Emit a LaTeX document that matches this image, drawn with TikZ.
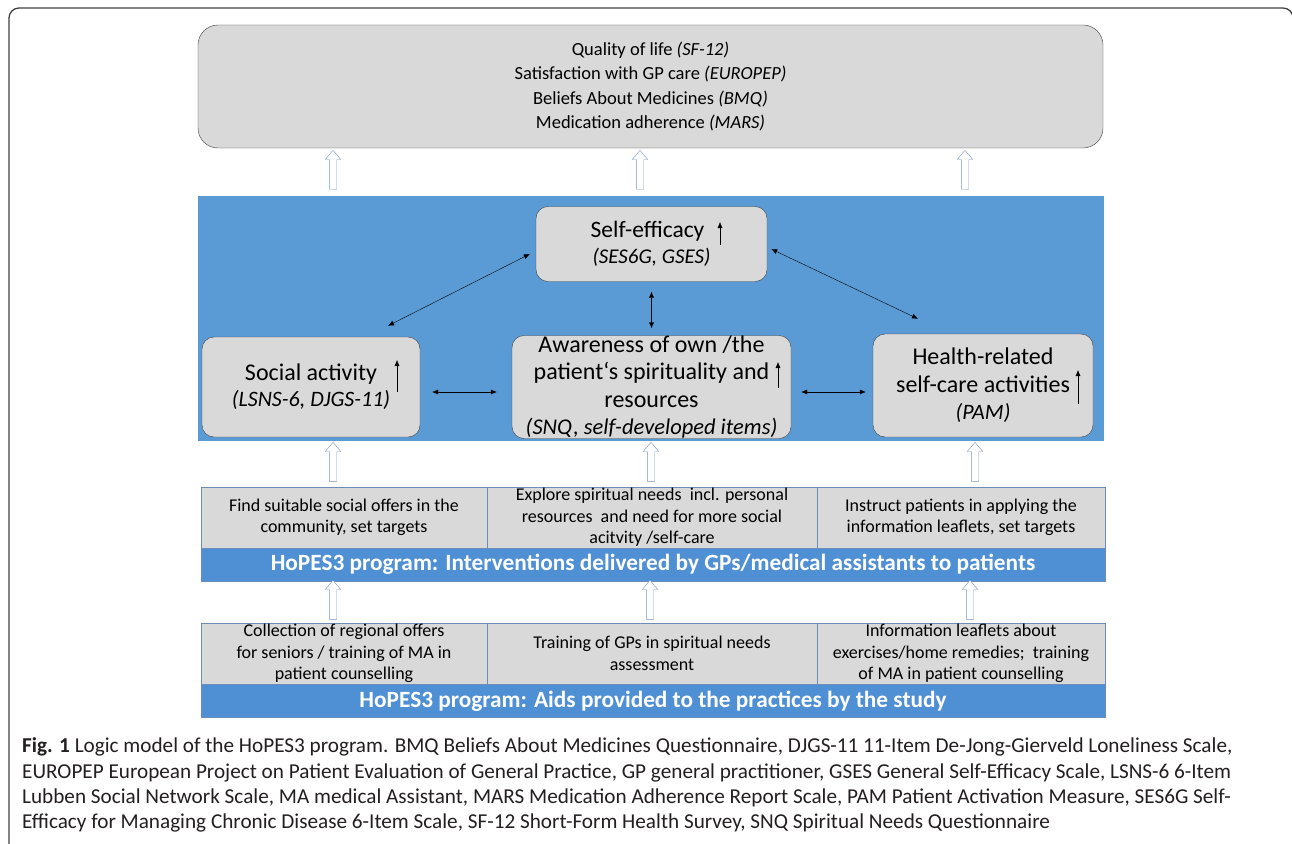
\documentclass[tikz,border=0pt]{standalone}
\usepackage{fontspec}
\setmainfont{Carlito}
\usepackage{tikz}
\usetikzlibrary{shapes.arrows,arrows.meta}

\definecolor{boxgray}{RGB}{217,217,217}
\definecolor{boxline}{RGB}{64,64,64}
\definecolor{areablue}{RGB}{91,155,213}
\definecolor{barblue}{RGB}{79,143,212}
\definecolor{cellline}{RGB}{110,140,185}
\definecolor{hollowline}{RGB}{120,150,200}
\definecolor{inktext}{RGB}{35,31,32}

\tikzset{
  outcome/.style={draw=boxline, fill=boxgray, rounded corners=20pt, inner sep=0pt, align=center},
  effect/.style={draw=boxline, fill=boxgray, rounded corners=12pt, inner sep=0pt, align=center},
  cell/.style={draw=cellline, fill=boxgray, inner sep=0pt, align=center,
    minimum height=61pt, font=\fontsize{18}{21.5}\selectfont},
  progbar/.style={draw=cellline, fill=barblue, text=white, inner sep=0pt,
    minimum width=904pt, minimum height=33pt, font=\fontsize{23.3}{26}\selectfont\bfseries},
  hollow/.style={single arrow, draw=hollowline, fill=white, shape border rotate=90,
    minimum height=39pt, inner sep=3.5pt, single arrow head extend=4pt,
    single arrow tip angle=80},
  both/.style={{Latex[length=6pt,width=5pt]}-{Latex[length=6pt,width=5pt]}, thin, black},
  rise/.style={-{Latex[length=6pt,width=5pt]}, thin, black},
  capline/.style={anchor=west, inner sep=0pt, text=inktext, font=\fontsize{21.2}{25}\selectfont}
}

\begin{document}
\begin{tikzpicture}[x=1pt, y=-1pt]
  \useasboundingbox (0,0) rectangle (1292,843);
  \clip (0,0) rectangle (1292,843);

  % outer frame of the figure
  \draw[boxline, line width=1.3pt, rounded corners=10pt] (9,860) -- (9,8) -- (1293,8) -- (1293,860);

  % outcomes
  \node[outcome, minimum width=905pt, minimum height=123pt, font=\fontsize{18.5}{24.5}\selectfont] (outc) at (650.5,86.5)
    {Quality of life \textit{(SF-12)}\\ Satisfaction with GP care \textit{(EUROPEP)}\\
     Beliefs About Medicines \textit{(BMQ)}\\ Medication adherence \textit{(MARS)}};

  % blue area with the effects
  \node[fill=areablue, minimum width=906pt, minimum height=245pt, inner sep=0pt] (area) at (650.5,318.5) {};

  \node[effect, minimum width=231pt, minimum height=75pt, font=\fontsize{23.5}{26}\selectfont] (selfeff) at (651.5,244)
    {Self-efficacy\hspace*{8pt}\\ {\fontsize{21}{24}\selectfont\itshape (SES6G, GSES)}};
  \node[effect, minimum width=218pt, minimum height=100pt, font=\fontsize{24}{26}\selectfont] (social) at (311,387)
    {Social activity\\ {\fontsize{22}{24}\selectfont\itshape (LSNS-6, DJGS-11)}};
  \node[effect, minimum width=279pt, minimum height=103pt, font=\fontsize{24}{27.5}\selectfont] (aware) at (651.5,387)
    {Awareness of own /the\\ patient‘s spirituality and\hspace*{22pt}\\ resources\\
     {\fontsize{22.5}{24}\selectfont\itshape (SNQ, self-developed items)}};
  \node[effect, minimum width=220pt, minimum height=103pt, font=\fontsize{24}{27.5}\selectfont] (health) at (983,385.5)
    {Health-related\\ self-care activities\hspace*{18pt}\\ {\fontsize{22}{24}\selectfont\itshape (PAM)}};

  \draw[rise] ([xshift=68.5pt,yshift=-1pt]selfeff.center) -- ++(0,-23);
  \draw[rise] ([xshift=86pt,yshift=-5pt]social.center) -- ++(0,-32);
  \draw[rise] ([xshift=126.5pt,yshift=-1pt]aware.center) -- ++(0,-26);
  \draw[rise] ([xshift=95pt,yshift=-18.5pt]health.center) -- ++(0,-34);

  \draw[both] ([xshift=77pt,yshift=11pt]social.north) -- ([xshift=-6pt,yshift=-10pt]selfeff.west);
  \draw[both] (selfeff.south) ++(0,10) -- ([yshift=7pt]aware.north);
  \draw[both] ([xshift=4pt,yshift=-5pt]selfeff.east) -- ([xshift=-65pt,yshift=15pt]health.north);
  \draw[both] ([xshift=12pt,yshift=-5pt]social.east) -- ([xshift=-15pt,yshift=-5pt]aware.west);
  \draw[both] ([xshift=10pt,yshift=-5pt]aware.east) -- ([xshift=-7pt,yshift=-6.5pt]health.west);

  % interventions delivered to patients
  \node[cell, minimum width=286pt] (find) at (344,517.5)
    {Find suitable social offers in the\\ community, set targets};
  \node[cell, minimum width=330pt] (explore) at (652,517.5)
    {Explore spiritual needs\ \ incl. personal\\ resources\ \ and need for more social\\ acitvity /self-care};
  \node[cell, minimum width=288pt] (instruct) at (961,517.5)
    {Instruct patients in applying the\\ information leaflets, set targets};
  \node[progbar] (interv) at (653,564.5)
    {HoPES3 program: Interventions delivered by GPs/medical assistants to patients};

  % aids provided to the practices
  \node[cell, minimum width=286pt] (collect) at (344,653.5)
    {Collection of regional offers\\ for seniors / training of MA in\\ patient counselling};
  \node[cell, minimum width=330pt] (training) at (652,653.5)
    {Training of GPs in spiritual needs\\ assessment};
  \node[cell, minimum width=288pt] (leaflet) at (961,653.5)
    {Information leaflets about\\ exercises/home remedies;\ \ training\\ of MA in patient counselling};
  \node[progbar] (aids) at (653,701)
    {HoPES3 program: Aids provided to the practices by the study};

  % hollow arrows
  \node[hollow] (up1) at (333,172) {};
  \node[hollow] (up2) at (640,172) {};
  \node[hollow] (up3) at (965,172) {};
  \node[hollow] (up4) at (333,464) {};
  \node[hollow] (up5) at (651,464) {};
  \node[hollow] (up6) at (975,464) {};
  \node[hollow] (up7) at (333,602) {};
  \node[hollow] (up8) at (650,602) {};
  \node[hollow] (up9) at (970,602) {};

  % caption
  \node[capline] (cap1) at (22,747) {\textbf{Fig. 1} Logic model of the HoPES3 program. BMQ Beliefs About Medicines Questionnaire, DJGS-11 11-Item De-Jong-Gierveld Loneliness Scale,};
  \node[capline] (cap2) at (22,773) {EUROPEP European Project on Patient Evaluation of General Practice, GP general practitioner, GSES General Self-Efficacy Scale, LSNS-6 6-Item};
  \node[capline] (cap3) at (22,798) {Lubben Social Network Scale, MA medical Assistant, MARS Medication Adherence Report Scale, PAM Patient Activation Measure, SES6G Self-};
  \node[capline] (cap4) at (22,823) {Efficacy for Managing Chronic Disease 6-Item Scale, SF-12 Short-Form Health Survey, SNQ Spiritual Needs Questionnaire};
\end{tikzpicture}
\end{document}
